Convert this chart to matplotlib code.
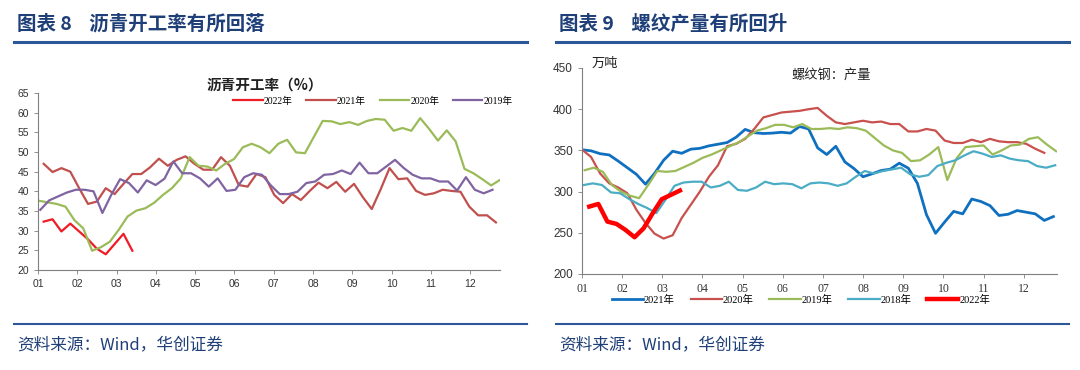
import numpy as np
import matplotlib
matplotlib.use('Agg')
import matplotlib.pyplot as plt
from matplotlib.lines import Line2D

plt.rcParams['font.family'] = ['Noto Sans CJK SC', 'DejaVu Sans']

# ---- data: left chart (weekly asphalt operating rate, %) ----
asph_2022 = [32.3, 32.9, 29.8, 31.8, 29.8, 27.8, 25.4, 24.0, 26.6, 29.2, 24.9]
asph_2021 = [47.0, 44.9, 45.9, 45.0, 40.8, 36.8, 37.4, 40.8, 39.3, 41.9, 44.4, 44.4, 46.1,
             48.3, 46.5, 48.0, 48.9, 47.0, 45.5, 45.5, 48.7, 46.5, 41.6, 41.2, 44.4, 43.6,
             39.1, 37.0, 39.3, 37.8, 40.1, 42.2, 40.8, 42.4, 39.9, 41.9, 38.5, 35.5, 40.5,
             45.9, 43.1, 43.3, 40.1, 39.1, 39.5, 40.4, 40.1, 39.9, 36.1, 33.9, 33.9, 32.1]
asph_2020 = [37.6, 37.2, 36.8, 36.1, 32.7, 30.6, 24.9, 25.8, 27.2, 30.2, 33.6, 35.1, 35.7,
             37.1, 39.1, 40.8, 43.3, 48.7, 46.5, 46.3, 45.3, 47.0, 48.2, 51.2, 52.1, 51.2,
             49.7, 52.1, 53.1, 49.9, 49.7, 53.8, 57.9, 57.8, 57.1, 57.6, 56.9, 57.9, 58.4,
             58.2, 55.4, 56.1, 55.4, 58.6, 55.9, 52.9, 55.5, 52.7, 45.7, 44.6, 43.1, 41.5, 42.9]
asph_2019 = [35.3, 37.7, 38.7, 39.7, 40.4, 40.4, 40.0, 34.5, 39.1, 43.1, 42.1, 39.7, 42.8,
             41.6, 43.2, 47.6, 44.6, 44.6, 43.3, 41.2, 43.3, 40.1, 40.4, 43.6, 44.6, 44.2,
             41.5, 39.3, 39.3, 39.9, 42.1, 42.5, 44.2, 44.4, 45.3, 44.4, 47.3, 44.6, 44.6,
             46.3, 48.0, 45.9, 44.2, 43.3, 43.3, 42.5, 42.5, 40.2, 43.6, 40.4, 39.5, 40.4]
asph_start = {'2022年': 0.64, '2021年': 0.64, '2020年': 0.1, '2019年': 0.26}

# ---- data: right chart (weekly rebar output, 10k tonnes) ----
reb_2021 = [350.7, 349.5, 346, 344.5, 337, 329, 321, 309, 322, 338, 349, 346.5, 351.5,
            352.5, 355.5, 357.5, 359.5, 366, 375.5, 371.5, 370.5, 371, 372, 371, 379, 376,
            353, 345, 355, 336, 328, 318, 321.6, 325.6, 327.2, 334.5, 328.4, 310, 272,
            249.4, 263, 276, 273, 291, 288, 283, 271, 272.5, 277, 275, 273, 265, 269.7]
reb_2020 = [351, 342, 322, 310, 305, 298, 278, 262, 249, 243, 247, 268, 284, 300, 318,
            332, 355, 358, 364, 376, 390, 393, 396, 397, 398, 400, 401.5, 392, 384, 382,
            384, 386, 384, 385, 382, 382, 373, 373, 376, 374, 362, 359, 359, 363, 360,
            364, 361, 360, 360, 358, 352, 347]
reb_2019 = [326, 329, 324, 308, 300, 295, 292, 308, 325, 324, 325, 330, 335, 341, 345,
            350, 355, 360, 367, 374, 377, 381, 381, 378, 382, 376, 376, 377, 376, 378,
            377, 374, 365, 356, 350, 347, 337, 338, 345, 354, 314, 340, 354, 355, 356,
            345, 350, 356, 357, 364, 366, 357, 349]
reb_2018 = [308, 310, 308, 299, 298, 291, 285, 280, 274, 290, 307, 311, 312, 312, 305,
            307, 312, 302, 301, 305, 312, 309, 310, 309, 304, 310, 311, 310, 307, 310,
            318, 325, 322, 325, 327, 329, 321, 318, 320, 331, 335, 338, 344, 349, 346,
            342, 344, 340, 338, 337, 331, 329, 332]
reb_2022 = [281.8, 285, 263.6, 260.8, 253.5, 244.6, 255.5, 273.7, 290.8, 296, 301.3]
reb_start = {'2021年': 0.0, '2020年': 0.0, '2019年': 0.3, '2018年': 0.2, '2022年': 0.8}

months = ['01', '02', '03', '04', '05', '06', '07', '08', '09', '10', '11', '12']
wk_per_month = 4.43

navy = '#1F3F78'
rule = '#2B5797'
grey = '#7F7F7F'

fig = plt.figure(figsize=(10.8, 3.7), dpi=100)

# headers, rules, sources
for x0, x1, title in [(14, 527, '图表 8    沥青开工率有所回落'), (556, 1069, '图表 9    螺纹产量有所回升')]:
    fig.add_artist(Line2D([x0 / 1080, x1 / 1080], [1 - 42 / 370] * 2, color=rule, lw=2.2))
    fig.add_artist(Line2D([x0 / 1080, x1 / 1080], [1 - 324 / 370] * 2, color=rule, lw=1.5))
    fig.text((x0 + 3) / 1080, 1 - 24 / 370, title, fontsize=14, fontweight='bold',
             color=navy, va='center', ha='left')
    fig.text((x0 + 3) / 1080, 1 - 345 / 370, '资料来源：Wind，华创证券', fontsize=12,
             style='italic', color=navy, va='center', ha='left')


def style_axes(ax, xmax, tickfont, size):
    for s in ['top', 'right']:
        ax.spines[s].set_visible(False)
    for s in ['left', 'bottom']:
        ax.spines[s].set_color(grey)
        ax.spines[s].set_linewidth(0.8)
    ax.set_xlim(0, xmax)
    ax.set_xticks(np.arange(12) * wk_per_month)
    ax.set_xticklabels(months, fontfamily=tickfont, fontsize=size)
    ax.tick_params(axis='both', colors=grey, length=3, width=0.6, labelcolor='#333333')
    ax.tick_params(axis='y', labelsize=size)
    for t in ax.get_yticklabels():
        t.set_fontfamily('Liberation Sans')
    ax.set_facecolor('none')


# ---- left chart ----
ax1 = fig.add_axes([38 / 1080, 1 - 270 / 370, 462 / 1080, 177 / 370])
left_series = [('2022年', asph_2022, '#EE1C25', 1.6),
               ('2021年', asph_2021, '#C0504D', 1.6),
               ('2020年', asph_2020, '#9BBB59', 1.6),
               ('2019年', asph_2019, '#8064A2', 1.6)]
for name, vals, col, lw in left_series:
    x = asph_start[name] + np.arange(len(vals))
    ax1.plot(x, vals, color=col, lw=lw, label=name)
ax1.set_ylim(20, 65)
ax1.set_yticks(np.arange(20, 66, 5))
style_axes(ax1, 52.1, 'Liberation Sans', 7.5)
ax1.legend(loc='center', bbox_to_anchor=(373 / 1080, 1 - 101 / 370),
           bbox_transform=fig.transFigure, ncol=4, frameon=False,
           prop={'family': ['Liberation Serif', 'Noto Sans CJK SC'], 'size': 7},
           handlelength=3.0, handletextpad=0.15, columnspacing=1.4)
fig.text(265 / 1080, 1 - 85 / 370, '沥青开工率（%）', fontsize=10.5, fontweight='bold',
         color='#222222', ha='center', va='center')

# ---- right chart ----
ax2 = fig.add_axes([582 / 1080, 1 - 274 / 370, 475 / 1080, 206 / 370])
right_series = [('2021年', reb_2021, '#1070C0', 2.0),
                ('2020年', reb_2020, '#C8504D', 1.6),
                ('2019年', reb_2019, '#9BBB59', 1.6),
                ('2018年', reb_2018, '#4BACC6', 1.6),
                ('2022年', reb_2022, '#FF0000', 3.2)]
for name, vals, col, lw in right_series:
    x = reb_start[name] + np.arange(len(vals))
    ax2.plot(x, vals, color=col, lw=lw, label=name)
ax2.set_ylim(200, 450)
ax2.set_yticks(np.arange(200, 451, 50))
style_axes(ax2, 52.4, 'Liberation Serif', 8.5)
ax2.legend(loc='center', bbox_to_anchor=(801 / 1080, 1 - 300 / 370),
           bbox_transform=fig.transFigure, ncol=5, frameon=False,
           prop={'family': ['Liberation Serif', 'Noto Sans CJK SC'], 'size': 7.5},
           handlelength=3.0, handletextpad=0.1, columnspacing=1.5)
fig.text(592 / 1080, 1 - 63 / 370, '万吨', fontsize=9.5, color='#222222',
         ha='left', va='center')
fig.text(831 / 1080, 1 - 75 / 370, '螺纹钢：产量', fontsize=9.5, color='#222222',
         ha='center', va='center')

fig.savefig('out.png', dpi=100)
